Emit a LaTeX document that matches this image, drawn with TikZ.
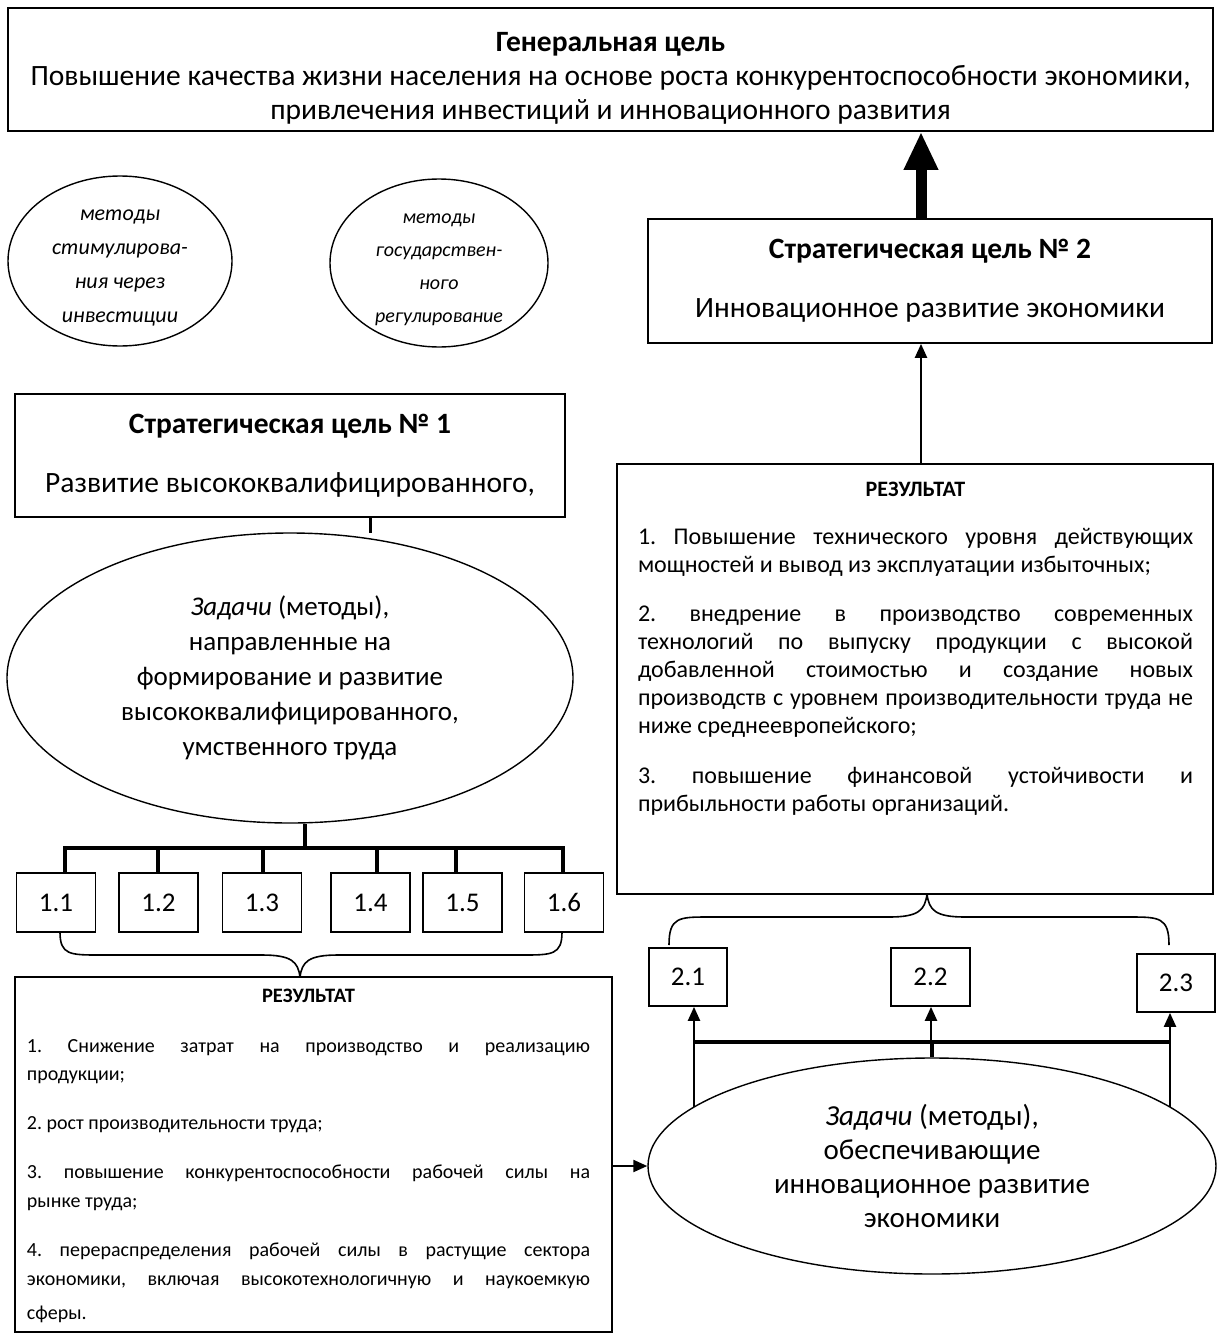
\documentclass[tikz,border=0pt]{standalone}
\usepackage{fontspec}
\setmainfont{Carlito}
\usetikzlibrary{arrows.meta,shapes.geometric}
\begin{document}
\frenchspacing
\begin{tikzpicture}[x=1pt,y=-1pt,
  box/.style={draw, line width=1.7pt, rectangle, inner sep=0pt},
  ell/.style={draw, ellipse, line width=1.4pt, inner sep=0pt},
  lbl/.style={inner sep=0pt, align=center},
  arr/.style={line width=2.2pt, -{Triangle[length=14pt,width=12pt]}},
  busline/.style={line width=3.2pt},
  brace/.style={line width=1.6pt},
  numbox/.style={box, minimum width=79pt, minimum height=59pt, font=\fontsize{27}{32}\selectfont},
  big/.style={font=\fontsize{29.5}{34}\selectfont}
]
\useasboundingbox (0,0) rectangle (1219,1338);
\fill[white] (0,0) rectangle (1219,1338);

% top box
\node[box, minimum width=1205pt, minimum height=123pt] (top) at (610.5,69.5) {};
\node[lbl, big] (topt) at (610.5,78)
 {\textbf{Генеральная цель}\\Повышение качества жизни населения на основе роста конкурентоспособности экономики,\\привлечения инвестиций и инновационного развития};

% method ellipses
\node[ell, minimum width=224pt, minimum height=170pt] (m1) at (120,261) {};
\node[lbl, font=\fontsize{22}{34}\selectfont\itshape] (m1t) at (120,268)
 {методы\\стимулирова-\\ния через\\инвестиции};
\node[ell, minimum width=218pt, minimum height=168pt] (m2) at (439,263) {};
\node[lbl, font=\fontsize{20}{33}\selectfont\itshape] (m2t) at (439,270)
 {методы\\государствен-\\ного\\регулирование};

% strategic goal 2
\node[box, big, minimum width=564pt, minimum height=124pt, align=center] (sg2) at (930,281)
 {\textbf{Стратегическая цель № 2}\\[25pt]Инновационное развитие экономики};

% strategic goal 1
\node[box, big, minimum width=550pt, minimum height=123pt, align=center] (sg1) at (290,455.5)
 {\textbf{Стратегическая цель № 1}\\[25pt]Развитие высококвалифицированного,};

% tasks ellipse 1
\node[ell, minimum width=566pt, minimum height=290pt, align=center, font=\fontsize{27}{35}\selectfont] (z1) at (290,678)
 {\textit{Задачи} (методы),\\направленные на\\формирование и развитие\\высококвалифицированного,\\умственного труда};

% number boxes 1.x
\node[numbox] (b11) at (56,902.5) {1.1};
\node[numbox] (b12) at (158.5,902.5) {1.2};
\node[numbox] (b13) at (262,902.5) {1.3};
\node[numbox] (b14) at (370.5,902.5) {1.4};
\node[numbox] (b15) at (462.5,902.5) {1.5};
\node[numbox] (b16) at (564,902.5) {1.6};

% result box 1
\node[box, minimum width=597pt, minimum height=355pt] (res1) at (313.5,1154.5) {};
\node[anchor=north, inner sep=0pt, text width=563pt, align=justify, font=\fontsize{20}{28.5}\selectfont] (res1t) at (308.5,989)
 {{\centering\fontsize{20.5}{28}\selectfont\textbf{РЕЗУЛЬТАТ}\par}\vspace{21pt}
  1. Снижение затрат на производство и реализацию\linebreak продукции;\par\vspace{20.5pt}
  2. рост производительности труда;\par\vspace{20.5pt}
  3. повышение конкурентоспособности рабочей силы на\linebreak рынке труда;\par\vspace{21pt}
  4. перераспределения рабочей силы в растущие сектора\linebreak экономики, включая высокотехнологичную и наукоемкую\vadjust{\vskip6pt}\linebreak сферы.\par};

% result box 2
\node[box, minimum width=596pt, minimum height=430pt] (res2) at (915,679) {};
\node[anchor=north, inner sep=0pt, text width=555pt, align=justify, font=\fontsize{24}{28}\selectfont] (res2t) at (915.5,482)
 {{\centering\fontsize{22}{27}\selectfont\textbf{РЕЗУЛЬТАТ}\par}\vspace{20pt}
  1. Повышение технического уровня действующих\linebreak мощностей и вывод из эксплуатации избыточных;\par\vspace{21pt}
  2. внедрение в производство современных\linebreak технологий по выпуску продукции с высокой\linebreak добавленной стоимостью и создание новых\linebreak производств с уровнем производительности труда не\linebreak ниже среднеевропейского;\par\vspace{22pt}
  3. повышение финансовой устойчивости и\linebreak прибыльности работы организаций.\par};

% number boxes 2.x
\node[numbox, minimum width=78pt, minimum height=58pt] (b21) at (688,977) {2.1};
\node[numbox, minimum width=79pt, minimum height=58pt] (b22) at (930.5,977) {2.2};
\node[numbox, minimum width=78pt, minimum height=58pt] (b23) at (1176,983) {2.3};

% tasks ellipse 2
\node[ell, minimum width=568pt, minimum height=216pt, align=center, font=\fontsize{29}{34}\selectfont] (z2) at (932,1166)
 {\textit{Задачи} (методы),\\обеспечивающие\\инновационное развитие\\экономики};

% ---- connectors ----
\coordinate (ax) at (921,0);
\draw[line width=11pt, -{Triangle[length=38pt,width=32pt]}] (ax |- sg2.north) -- (ax |- top.south);
\draw[arr] (ax |- res2.north) -- (ax |- sg2.south);

% sg1 -> z1
\coordinate (s1) at (370,0);
\draw[line width=3pt] (s1 |- sg1.south) -- (370,533);

% bus 1
\coordinate (dz) at (305,848);
\coordinate (d1) at (65,848);
\coordinate (d2) at (158,848);
\coordinate (d3) at (263,848);
\coordinate (d4) at (377,848);
\coordinate (d5) at (456,848);
\coordinate (d6) at (563,848);
\draw[busline] (dz |- z1.south) -- (dz);
\draw[busline, line cap=rect] (d1) -- (d6);
\foreach \d/\b in {d1/b11,d2/b12,d3/b13,d4/b14,d5/b15,d6/b16}
  \draw[busline] (\d) -- (\d |- \b.north);

% brace 1
\coordinate (br1a) at (60,932);
\coordinate (br1b) at (562,932);
\coordinate (br1t) at (300,977);
\draw[brace] (br1a) .. controls (60,955) and (70,955) .. (100,955) -- (262,955)
   .. controls (292,955) and (298,962) .. (br1t);
\draw[brace] (br1b) .. controls (562,955) and (552,955) .. (522,955) -- (338,955)
   .. controls (308,955) and (302,962) .. (br1t);

% brace 2
\coordinate (br2t) at (927,894);
\coordinate (br2a) at (669,945);
\coordinate (br2b) at (1169,945);
\draw[brace] (br2a) .. controls (669,917) and (679,917) .. (709,917) -- (889,917)
   .. controls (919,917) and (925,910) .. (br2t);
\draw[brace] (br2b) .. controls (1169,917) and (1159,917) .. (1129,917) -- (965,917)
   .. controls (935,917) and (929,910) .. (br2t);

% bus 2
\coordinate (c21) at (694,1042);
\coordinate (c22) at (931,1042);
\coordinate (c23) at (1170,1042);
\coordinate (e21) at (694,1107);
\coordinate (e23) at (1170,1107);
\draw[busline] (c21) -- (c23);
\draw[busline] (z2.north) -- (z2.north |- c22);
\draw[line width=2pt] (c21) -- (e21);
\draw[line width=2pt] (c23) -- (e23);
\draw[arr] (c21) -- (c21 |- b21.south);
\draw[arr] (c22) -- (c22 |- b22.south);
\draw[arr] (c23) -- (c23 |- b23.south);

% res1 -> z2
\draw[arr] (res1.east |- z2.west) -- (z2.west);
\end{tikzpicture}
\end{document}
